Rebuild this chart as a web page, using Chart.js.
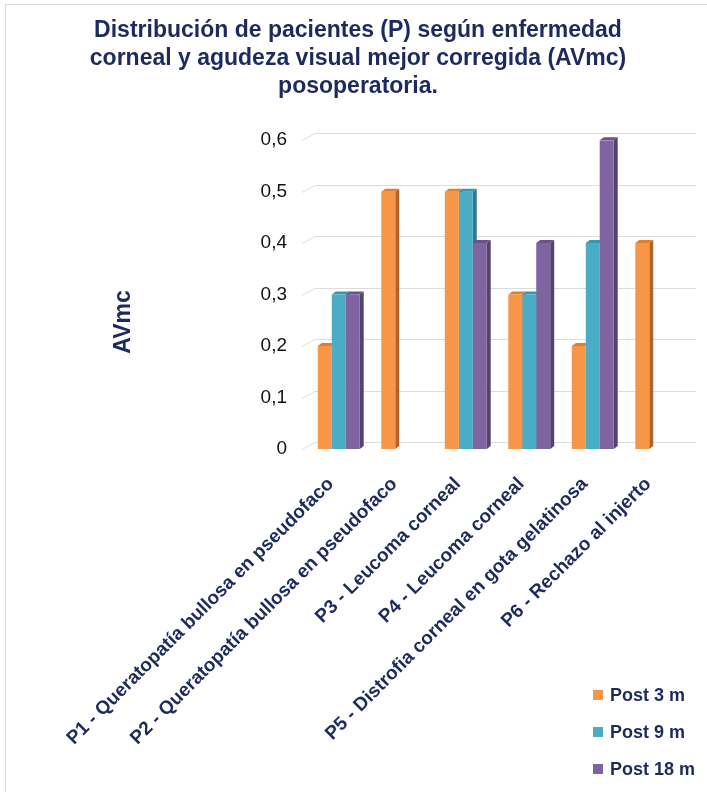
<!DOCTYPE html>
<html>
<head>
<meta charset="utf-8">
<script src="https://cdn.jsdelivr.net/npm/chart.js@4.4.1/dist/chart.umd.min.js"></script>
<style>
html, body { margin: 0; padding: 0; background: #fff; }
#wrap { position: relative; width: 707px; height: 792px; overflow: hidden; }
#frame { position: absolute; left: 5px; top: 4px; width: 760px; height: 840px; border: 1px solid #d9d9d9; }
canvas { position: absolute; left: 0; top: 0; }
</style>
</head>
<body>
<div id="wrap">
  <div id="frame"></div>
  <canvas id="chart" width="707" height="792"></canvas>
</div>
<script>
// data
const categories = [
    'P1 - Queratopatía bullosa en pseudofaco',
    'P2 - Queratopatía bullosa en pseudofaco',
    'P3 - Leucoma corneal',
    'P4 - Leucoma corneal',
    'P5 - Distrofia corneal en gota gelatinosa',
    'P6 - Rechazo al injerto'
];
const seriesNames = ['Post 3 m', 'Post 9 m', 'Post 18 m'];
const post3 = [0.2, 0.5, 0.5, 0.3, 0.2, 0.4];
const post9 = [0.3, null, 0.5, 0.3, 0.4, null];
const post18 = [0.3, null, 0.4, 0.4, 0.6, null];
const yTickLabels = ['0', '0,1', '0,2', '0,3', '0,4', '0,5', '0,6'];
const yTitle = 'AVmc';

const navy = '#1c2a5e';
const font = "'Liberation Sans', Arial, sans-serif";

// front / side / top colours for the fake 3d look
const colors = [
    { front: '#F79646', side: '#B5622A', top: '#D98035' },
    { front: '#4BACC6', side: '#2C7A91', top: '#3A95AD' },
    { front: '#8064A2', side: '#54426F', top: '#6A528A' }
];
const dx = 4, dy = 3;

// gridlines on the back wall + 3d faces of the bars
const backdrop = {
    id: 'backdrop',
    beforeDatasetsDraw(chart) {
        const ctx = chart.ctx;
        const area = chart.chartArea;
        const y = chart.scales.y;
        ctx.save();
        ctx.strokeStyle = '#dcdcdc';
        ctx.lineWidth = 1;
        y.ticks.forEach((t, i) => {
            const py = Math.round(y.getPixelForTick(i)) + 0.5;
            ctx.beginPath();
            ctx.moveTo(area.left - 5, py);
            ctx.lineTo(area.left + 8, py - 7);
            ctx.lineTo(area.right + 8, py - 7);
            ctx.stroke();
        });

        chart.data.datasets.forEach((ds, i) => {
            const c = colors[i];
            chart.getDatasetMeta(i).data.forEach((bar, j) => {
                if (ds.data[j] == null) return;
                const p = bar.getProps(['x', 'y', 'base', 'width'], true);
                const l = p.x - p.width / 2, r = p.x + p.width / 2;
                ctx.fillStyle = c.side;
                ctx.beginPath();
                ctx.moveTo(r, p.y);
                ctx.lineTo(r + dx, p.y - dy);
                ctx.lineTo(r + dx, p.base - dy);
                ctx.lineTo(r, p.base);
                ctx.closePath();
                ctx.fill();
                ctx.fillStyle = c.top;
                ctx.beginPath();
                ctx.moveTo(l, p.y);
                ctx.lineTo(l + dx, p.y - dy);
                ctx.lineTo(r + dx, p.y - dy);
                ctx.lineTo(r, p.y);
                ctx.closePath();
                ctx.fill();
            });
        });
        ctx.restore();
    }
};

// y title + vertical legend in the bottom right corner
const extras = {
    id: 'extras',
    afterDraw(chart) {
        const ctx = chart.ctx;
        ctx.save();
        ctx.fillStyle = navy;
        ctx.font = 'bold 23px ' + font;
        ctx.textAlign = 'center';
        ctx.textBaseline = 'middle';
        ctx.translate(124, 322);
        ctx.rotate(-Math.PI / 2);
        ctx.fillText(yTitle, 0, 0);
        ctx.restore();

        ctx.save();
        ctx.font = 'bold 18px ' + font;
        ctx.textBaseline = 'middle';
        chart.data.datasets.forEach((ds, i) => {
            const cy = 695 + i * 37;
            ctx.fillStyle = colors[i].front;
            ctx.fillRect(593, cy - 5, 10, 10);
            ctx.fillStyle = navy;
            ctx.fillText(ds.label, 610, cy + 1);
        });
        ctx.restore();
    }
};

new Chart(document.getElementById('chart'), {
    type: 'bar',
    data: {
        labels: categories,
        datasets: [
            { label: seriesNames[0], data: post3, backgroundColor: colors[0].front },
            { label: seriesNames[1], data: post9, backgroundColor: colors[1].front },
            { label: seriesNames[2], data: post18, backgroundColor: colors[2].front }
        ]
    },
    options: {
        responsive: false,
        animation: false,
        devicePixelRatio: 1,
        categoryPercentage: 0.66,
        barPercentage: 1,
        layout: { padding: { left: 28, right: 19, top: 0, bottom: 0 } },
        plugins: {
            legend: { display: false },
            tooltip: { enabled: false },
            title: {
                display: true,
                text: [
                    'Distribución de pacientes (P) según enfermedad',
                    'corneal y agudeza visual mejor corregida (AVmc)',
                    'posoperatoria.'
                ],
                color: navy,
                font: { family: font, size: 23, weight: 'bold', lineHeight: 1.22 },
                padding: { top: 17, bottom: 39 }
            }
        },
        scales: {
            x: {
                grid: { display: false, drawTicks: false },
                border: { display: false },
                ticks: {
                    color: navy,
                    font: { family: font, size: 19, weight: 'bold' },
                    minRotation: 45,
                    maxRotation: 45,
                    autoSkip: false,
                    padding: 24,
                    labelOffset: -8
                },
                afterFit(scale) { scale.height = 343; }
            },
            y: {
                min: 0,
                max: 0.6,
                grid: { display: false, drawTicks: false },
                border: { display: false },
                ticks: {
                    stepSize: 0.1,
                    color: '#111',
                    padding: 20,
                    font: { family: font, size: 19 },
                    callback: (v, i) => yTickLabels[i]
                },
                afterFit(scale) { scale.width = 279; }
            }
        }
    },
    plugins: [backdrop, extras]
});
</script>
</body>
</html>
